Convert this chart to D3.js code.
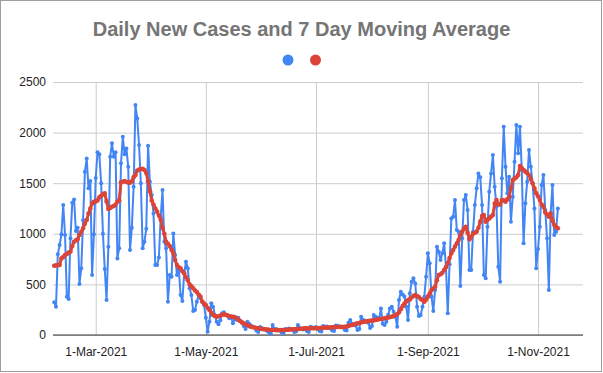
<!DOCTYPE html>
<html>
<head>
<meta charset="utf-8">
<script src="https://cdn.jsdelivr.net/npm/d3@7"></script>
<style>
  body { margin: 0; background: #fff; }
  svg { display: block; font-family: "Liberation Sans", Arial, sans-serif; }
</style>
</head>
<body>
<div id="chart"></div>
<script>
// first reported day, one value per day after it
const startDate = new Date(2021, 1, 6);

const dailyCases = [
  323, 280, 797, 889, 995, 1284, 988, 379, 356, 955,
  1307, 1340, 1027, 1060, 504, 659, 1133, 1614, 1745, 1449,
  1521, 593, 995, 1551, 1805, 1785, 1500, 1000, 652, 346,
  873, 1762, 1894, 1762, 1805, 757, 856, 1696, 1959, 1785,
  1844, 1663, 840, 1060, 1465, 2272, 2140, 1877, 1500, 856,
  922, 1050, 1870, 1515, 1383, 1200, 692, 692, 767, 1169,
  1432, 922, 856, 329, 593, 576, 1004, 790, 593, 659,
  395, 336, 609, 724, 659, 461, 395, 237, 247, 329,
  395, 362, 329, 296, 171, 33, 132, 313, 280, 198,
  132, 105, 145, 214, 224, 198, 191, 165, 181, 115,
  160, 150, 170, 140, 120, 90, 60, 130, 110, 95,
  80, 75, 45, 30, 80, 70, 60, 55, 40, 25,
  16, 99, 55, 60, 50, 45, 25, 20, 60, 55,
  65, 60, 55, 30, 35, 99, 70, 60, 55, 70,
  40, 30, 82, 75, 70, 80, 60, 40, 35, 90,
  82, 85, 70, 65, 45, 40, 95, 92, 85, 80,
  75, 50, 45, 120, 148, 110, 100, 95, 49, 60,
  181, 150, 140, 130, 120, 70, 90, 198, 180, 170,
  160, 263, 110, 100, 132, 200, 263, 280, 230, 181,
  82, 346, 428, 400, 380, 280, 148, 412, 527, 560,
  510, 280, 188, 198, 280, 379, 576, 807, 708, 379,
  237, 445, 873, 823, 741, 807, 906, 675, 214, 700,
  1152, 1169, 1334, 1037, 1020, 484, 955, 1334, 1383, 1235,
  642, 642, 1021, 1284, 1450, 1597, 1558, 1284, 593, 560,
  1070, 1416, 1597, 1778, 1465, 1268, 675, 527, 1548, 2058,
  1663, 1400, 1564, 1120, 1367, 1712, 2075, 1795, 2058, 1630,
  906, 1301, 1515, 1827, 1663, 1499, 1251, 659, 850, 1070,
  1482, 1581, 1235, 955, 445, 1202, 1482, 988, 1021, 1251
];

const movingAvg = [
  685, 688, 690, 692, 757, 770, 790, 800, 815, 823,
  880, 922, 935, 945, 988, 1020, 1054, 1100, 1136, 1200,
  1250, 1300, 1315, 1320, 1330, 1360, 1375, 1390, 1400, 1320,
  1245, 1255, 1268, 1275, 1290, 1317, 1330, 1510, 1515, 1521,
  1512, 1508, 1505, 1520, 1560, 1581, 1625, 1635, 1640, 1642,
  1630, 1600, 1520, 1420, 1330, 1290, 1250, 1220, 1180, 1140,
  1060, 1000, 922, 900, 880, 840, 807, 740, 692, 670,
  659, 630, 609, 570, 540, 500, 480, 461, 440, 425,
  400, 380, 330, 310, 296, 270, 247, 220, 198, 188,
  181, 185, 191, 200, 204, 200, 195, 185, 182, 180,
  178, 165, 150, 138, 125, 115, 106, 97, 88, 82,
  78, 73, 69, 66, 63, 60, 57, 56, 54, 52,
  50, 49, 49, 48, 48, 49, 49, 48, 50, 52,
  53, 55, 56, 57, 58, 60, 61, 62, 63, 65,
  66, 65, 66, 66, 67, 66, 67, 69, 70, 71,
  72, 73, 74, 75, 76, 77, 78, 79, 79, 80,
  79, 80, 84, 90, 96, 99, 104, 110, 115, 119,
  124, 128, 132, 135, 138, 140, 142, 145, 149, 152,
  155, 158, 161, 165, 169, 173, 177, 181, 188, 196,
  205, 225, 255, 285, 310, 330, 345, 352, 370, 385,
  395, 385, 375, 355, 345, 329, 350, 379, 410, 445,
  460, 477, 540, 593, 600, 615, 642, 670, 708, 760,
  807, 840, 873, 905, 939, 985, 1021, 1050, 1070, 1010,
  945, 970, 1000, 1010, 1021, 1060, 1120, 1175, 1185, 1120,
  1140, 1152, 1170, 1185, 1300, 1334, 1290, 1290, 1334, 1330,
  1317, 1340, 1367, 1450, 1531, 1545, 1558, 1581, 1670, 1650,
  1630, 1614, 1600, 1581, 1540, 1499, 1450, 1400, 1370, 1334,
  1290, 1268, 1210, 1190, 1169, 1200, 1130, 1087, 1070, 1054
];

const yTicks = [0, 500, 1000, 1500, 2000, 2500];
const xTicks = [
  new Date(2021, 2, 1), new Date(2021, 4, 1), new Date(2021, 6, 1),
  new Date(2021, 8, 1), new Date(2021, 10, 1)
];

const title = "Daily New Cases and 7 Day Moving Average";
const blue = "#4285f4";
const red = "#db4437";

const width = 603;
const height = 373;
const margin = { top: 82, right: 20, bottom: 38, left: 53 };

const data = dailyCases.map((v, i) => ({
  date: d3.timeDay.offset(startDate, i),
  cases: v,
  avg: movingAvg[i]
}));

const x = d3.scaleTime()
  .domain([new Date(2021, 1, 5, 8), new Date(2021, 10, 25, 22)])
  .range([margin.left, width - margin.right]);

const y = d3.scaleLinear()
  .domain([0, 2500])
  .range([height - margin.bottom, margin.top]);

const svg = d3.select("#chart").append("svg")
  .attr("width", width)
  .attr("height", height)
  .attr("viewBox", [0, 0, width, height]);

// outer frame
svg.append("rect")
  .attr("x", 0.5).attr("y", 0.5)
  .attr("width", width - 2).attr("height", height - 2)
  .attr("fill", "#fff")
  .attr("stroke", "#9e9e9e");

// title
svg.append("text")
  .attr("x", width / 2)
  .attr("y", 36)
  .attr("text-anchor", "middle")
  .attr("font-size", 20)
  .attr("font-weight", "bold")
  .attr("fill", "#757575")
  .text(title);

// legend dots (no labels)
svg.append("g")
  .selectAll("circle")
  .data([blue, red])
  .join("circle")
    .attr("cx", (d, i) => 288 + i * 27.5)
    .attr("cy", 60)
    .attr("r", 5.5)
    .attr("fill", d => d);

// horizontal gridlines + y labels
const yAxis = g => g
  .attr("transform", `translate(${margin.left},0)`)
  .call(d3.axisLeft(y).tickValues(yTicks).tickFormat(d3.format("d"))
    .tickSize(-(width - margin.left - margin.right)).tickPadding(7))
  .call(g => g.select(".domain").remove())
  .call(g => g.selectAll(".tick line").attr("stroke", "#cccccc"))
  .call(g => g.selectAll(".tick text")
    .attr("fill", "#222")
    .attr("font-size", 12)
    .attr("font-family", "Liberation Sans, Arial, sans-serif"));

svg.append("g").call(yAxis);

// vertical gridlines + x labels
const xAxis = g => g
  .attr("transform", `translate(0,${height - margin.bottom})`)
  .call(d3.axisBottom(x).tickValues(xTicks).tickFormat(d3.timeFormat("%-d-%b-%Y"))
    .tickSize(-(height - margin.top - margin.bottom)).tickPadding(12))
  .call(g => g.select(".domain").remove())
  .call(g => g.selectAll(".tick line").attr("stroke", "#cccccc"))
  .call(g => g.selectAll(".tick text")
    .attr("fill", "#222")
    .attr("font-size", 12)
    .attr("font-family", "Liberation Sans, Arial, sans-serif"));

svg.append("g").call(xAxis);

// baseline
svg.append("line")
  .attr("x1", margin.left).attr("x2", width - margin.right)
  .attr("y1", y(0)).attr("y2", y(0))
  .attr("stroke", "#333");

// daily cases
const lineCases = d3.line().x(d => x(d.date)).y(d => y(d.cases));
svg.append("path")
  .datum(data)
  .attr("fill", "none")
  .attr("stroke", blue)
  .attr("stroke-width", 2)
  .attr("stroke-linejoin", "round")
  .attr("d", lineCases);

svg.append("g")
    .attr("fill", blue)
  .selectAll("circle")
  .data(data)
  .join("circle")
    .attr("cx", d => x(d.date))
    .attr("cy", d => y(d.cases))
    .attr("r", 2);

// moving average
const lineAvg = d3.line().x(d => x(d.date)).y(d => y(d.avg));
svg.append("path")
  .datum(data)
  .attr("fill", "none")
  .attr("stroke", red)
  .attr("stroke-width", 3)
  .attr("stroke-linejoin", "round")
  .attr("d", lineAvg);

svg.append("g")
    .attr("fill", red)
  .selectAll("circle")
  .data(data)
  .join("circle")
    .attr("cx", d => x(d.date))
    .attr("cy", d => y(d.avg))
    .attr("r", 2.3);
</script>
</body>
</html>
